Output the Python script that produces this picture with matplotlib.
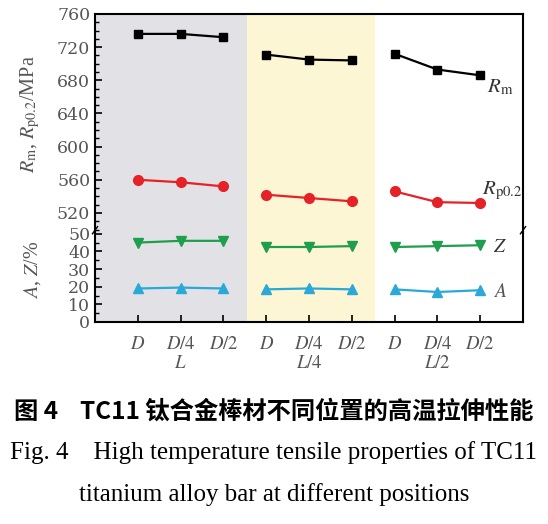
import numpy as np
import matplotlib
matplotlib.use("Agg")
import matplotlib.pyplot as plt
from matplotlib.ticker import MultipleLocator

plt.rcParams['font.family'] = ['Liberation Serif', 'DejaVu Serif']
plt.rcParams['mathtext.fontset'] = 'stix'

# data
groups = ['L', 'L/4', 'L/2']
positions = ['D', 'D/4', 'D/2']
rm = [[736, 736, 732], [711, 705, 704], [712, 693, 686]]
rp02 = [[560, 557, 552], [542, 538, 534], [546, 533, 532]]
z = [[45, 46, 46], [42.5, 42.5, 43], [42.5, 43, 43.5]]
a = [[19, 19.5, 19], [18.5, 19, 18.5], [18.5, 17, 18]]

fig = plt.figure(figsize=(5.48, 5.24), dpi=100)
left, width = 95 / 548, 428 / 548
y_top, y_brk, y_bot = 1 - 14 / 524, 1 - 232 / 524, 1 - 322 / 524
ax1 = fig.add_axes([left, y_brk, width, y_top - y_brk])
ax2 = fig.add_axes([left, y_bot, width, y_brk - y_bot])

for ax in (ax1, ax2):
    ax.set_xlim(-1, 9)
    ax.axvspan(-1, 2.55, color='#e2e2e6', lw=0, zorder=0)
    ax.axvspan(2.55, 5.55, color='#fdf6d4', lw=0, zorder=0)
    ax.tick_params(direction='in', width=1.2, length=5, labelcolor='#555555')
    ax.tick_params(which='minor', direction='in', width=1, length=3)
    for s in ax.spines.values():
        s.set_linewidth(1.5)

styles = [
    (ax1, rm, 'k', 's', 6),
    (ax1, rp02, '#e52228', 'o', 7),
    (ax2, z, '#1f9e4e', 'v', 7),
    (ax2, a, '#2aa9d9', '^', 7),
]
for ax, series, col, mk, ms in styles:
    for g, vals in enumerate(series):
        xs = np.arange(3) + 3 * g
        ax.plot(xs, vals, color=col, marker=mk, ms=ms, lw=1.6)

ax1.set_ylim(497, 760)
ax1.set_yticks(range(520, 761, 40))
ax1.set_yticklabels([str(v) for v in range(520, 761, 40)], family='DejaVu Serif', fontsize=12.5)
ax1.yaxis.set_minor_locator(MultipleLocator(10))
ax1.spines['bottom'].set_visible(False)
ax1.tick_params(axis='x', which='both', bottom=False, labelbottom=False)

ax2.set_ylim(0, 51)
ax2.set_yticks(range(0, 51, 10))
ax2.set_yticklabels([str(v) for v in range(0, 51, 10)], family='DejaVu Serif', fontsize=12.5)
ax2.yaxis.set_minor_locator(MultipleLocator(5))
ax2.spines['top'].set_visible(False)
ax2.set_xticks(range(9))
ax2.set_xticklabels(['$' + p + '$' for p in positions] * 3, fontsize=13.5)
ax2.tick_params(axis='x', pad=10)

for g, name in enumerate(groups):
    fig.text(left + width * (3 * g + 2) / 10, 1 - 364 / 524, '$' + name + '$',
             ha='center', va='center', fontsize=13.5, color='#555555')

# small break marks on the side spines
for xb in (0, 1):
    ax2.plot([xb - 0.006, xb + 0.006], [0.98, 1.06], transform=ax2.transAxes,
             color='k', lw=1, clip_on=False)

# series labels
ax1.text(8.15, 671, r'$R_{\rm m}$', fontsize=15, va='center', color='#333333')
ax1.text(8.05, 546, r'$R_{\rm p0.2}$', fontsize=15, va='center', color='#333333')
ax2.text(8.3, 42, r'$Z$', fontsize=14, va='center', color='#333333')
ax2.text(8.3, 17, r'$A$', fontsize=14, va='center', color='#555555')

fig.text(30 / 548, 1 - 114 / 524, r'$R_{\rm m}$, $R_{\rm p0.2}$/MPa', rotation=90,
         ha='center', va='center', fontsize=14.5, color='#555555')
fig.text(33 / 548, 1 - 270 / 524, r'$A$, $Z$/%', rotation=90,
         ha='center', va='center', fontsize=14.5, color='#555555')

fig.text(0.5, 1 - 412 / 524, '图 4    TC11 钛合金棒材不同位置的高温拉伸性能',
         family=['Noto Sans CJK SC', 'DejaVu Sans'], weight='bold',
         ha='center', va='center', fontsize=17.5)
fig.text(0.5, 1 - 453 / 524, 'Fig. 4    High temperature tensile properties of TC11',
         ha='center', va='center', fontsize=18)
fig.text(0.5, 1 - 495 / 524, 'titanium alloy bar at different positions',
         ha='center', va='center', fontsize=18)

fig.savefig('out.png', dpi=100)
